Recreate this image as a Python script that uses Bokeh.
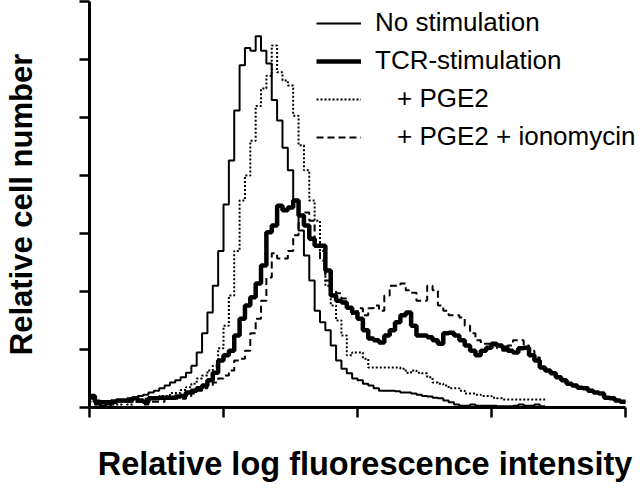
from bokeh.plotting import figure
from bokeh.models import FixedTicker, Legend, LegendItem
from bokeh.embed import file_html
from bokeh.resources import INLINE

# Histogram bins: 0.04 decade wide, x axis spans 4 log decades
bin_width = 0.04
decade_ticks = [0, 1, 2, 3, 4]
count_ticks = [0, 10, 20, 30, 40, 50, 60, 70]

no_stim = [1.7, 0.7, 0.3, 0.7, 1.2, 1.2, 1.2, 1.6, 1.6, 2.0,
           2.2, 2.6, 2.9, 3.3, 3.8, 4.3, 4.7, 5.2, 6.0, 7.2,
           9.5, 12.8, 16.4, 21.0, 27.0, 35.0, 42.6, 51.2, 59.0, 62.0,
           61.5, 64.0, 61.5, 59.3, 53.0, 49.5, 44.8, 40.9, 35.7, 30.5,
           26.2, 21.9, 16.7, 14.7, 13.3, 10.7, 8.1, 6.7, 5.9, 5.0,
           4.7, 4.1, 3.8, 3.3, 2.9, 2.9, 2.9, 2.8, 2.6, 2.6,
           2.4, 2.2, 2.0, 1.9, 1.7, 1.6, 1.2, 0.9, 0.5, 0.3,
           0.3, 0.5, 0.3, 0.3, 0.3, 0.3, 0.2, 0.2, 0.2, 0.3,
           0.5, 0.3, 0.3, 0.5, 0.2]

tcr_stim = [2.0, 1.0, 0.9, 0.9, 1.0, 1.2, 1.2, 1.2, 1.6, 1.2,
            1.0, 1.6, 1.6, 1.7, 1.7, 1.7, 1.9, 2.0, 2.6, 2.9,
            3.3, 3.8, 4.7, 6.0, 8.1, 9.0, 9.8, 12.4, 15.3, 17.6,
            19.0, 21.4, 24.5, 30.2, 31.4, 34.8, 34.0, 34.5, 35.7, 33.1,
            31.4, 29.1, 27.9, 27.9, 23.6, 19.3, 18.4, 18.1, 17.2, 16.4,
            15.3, 13.3, 11.9, 11.6, 11.2, 12.4, 13.3, 14.7, 15.9, 16.4,
            14.1, 12.4, 12.4, 12.1, 11.6, 11.0, 12.8, 12.9, 12.4, 11.6,
            10.7, 9.8, 9.0, 9.8, 10.3, 11.0, 10.7, 10.3, 9.8, 9.5,
            10.2, 10.3, 9.0, 8.1, 6.9, 6.4, 5.9, 5.2, 4.7, 4.1,
            3.8, 3.4, 3.3, 2.9, 2.6, 2.4, 1.7, 1.6, 1.2, 1.0]

pge2 = [1.0, 0.5, 0.3, 0.3, 0.5, 0.5, 1.0, 0.5, 1.0, 1.0,
        1.5, 1.5, 1.5, 2.0, 2.0, 2.5, 2.5, 3.0, 3.5, 4.1,
        5.0, 5.5, 6.4, 7.2, 10.2, 14.1, 19.3, 27.0, 35.7, 40.0,
        46.0, 52.0, 55.0, 57.2, 62.4, 57.8, 56.4, 55.5, 50.3, 45.2,
        40.9, 35.7, 32.2, 27.0, 21.0, 17.6, 15.0, 12.4, 9.0, 9.5,
        9.5, 8.4, 6.9, 6.9, 6.9, 6.9, 6.9, 6.9, 6.7, 6.0,
        6.4, 6.0, 5.9, 5.2, 4.3, 4.1, 3.8, 3.3, 3.3, 2.9,
        2.4, 2.4, 2.2, 2.0, 2.0, 1.7, 1.6, 1.4, 1.4, 1.4,
        1.4, 1.4, 1.4, 1.4, 1.4]

pge2_iono = [1.5, 0.5, 0.5, 0.5, 0.5, 1.0, 1.0, 1.0, 1.0, 1.0,
             0.5, 1.0, 1.0, 1.0, 1.5, 1.5, 1.5, 1.5, 2.0, 2.4,
             2.9, 3.3, 3.8, 4.3, 5.0, 5.5, 6.4, 8.1, 8.4, 9.8,
             12.8, 15.3, 18.4, 22.4, 26.6, 25.7, 25.7, 27.0, 29.7, 31.9,
             33.6, 32.2, 28.8, 25.3, 21.9, 20.2, 19.7, 18.8, 17.2, 15.9,
             17.1, 15.9, 17.1, 17.6, 16.7, 19.3, 21.0, 21.0, 21.4, 20.2,
             19.8, 18.4, 18.4, 21.0, 20.2, 17.6, 16.7, 15.9, 15.9, 15.5,
             14.1, 12.8, 11.6, 11.0, 11.0, 10.7, 10.2, 9.8, 10.7, 11.6,
             11.6, 10.7, 9.8, 8.6, 6.9, 6.4, 5.9, 5.2, 4.7, 4.1,
             3.8, 3.4, 3.3, 2.9, 2.6, 2.4, 1.7, 1.6, 1.2, 1.0]

labels = ["No stimulation", "TCR-stimulation", "+ PGE2", "+ PGE2 + ionomycin"]
x_title = "Relative log fluorescence intensity"
y_title = "Relative cell number"


def edges(vals):
    xs = [i * bin_width for i in range(len(vals) + 1)]
    ys = list(vals) + [vals[-1]]
    return xs, ys


# frame runs to the right edge so the legend is not clipped;
# the x axis line itself is bounded to the 4 decades
p = figure(width=640, height=488, output_backend="svg", toolbar_location=None,
           x_range=(0, 4.1117), y_range=(0, 70),
           min_border_left=88, min_border_right=0,
           min_border_top=1, min_border_bottom=81)
p.outline_line_color = None
p.xgrid.visible = False
p.ygrid.visible = False
p.background_fill_color = "white"
p.border_fill_color = "white"

x, y = edges(no_stim)
r1 = p.step(x, y, mode="after", line_color="black", line_width=2)
x, y = edges(tcr_stim)
r2 = p.step(x, y, mode="after", line_color="black", line_width=4.5)
x, y = edges(pge2)
r3 = p.step(x, y, mode="after", line_color="black", line_width=2, line_dash="2 2")
x, y = edges(pge2_iono)
r4 = p.step(x, y, mode="after", line_color="black", line_width=2, line_dash="7 4")

for ax in (p.xaxis[0], p.yaxis[0]):
    ax.axis_line_width = 3
    ax.axis_line_color = "black"
    ax.major_tick_line_width = 2.5
    ax.major_tick_line_color = "black"
    ax.major_tick_out = 10
    ax.major_tick_in = 0
    ax.minor_tick_line_color = None
    ax.major_label_text_font_size = "0px"
    ax.major_label_text_color = None
    ax.major_label_standoff = 0
    ax.axis_label_text_font = "Liberation Sans"
    ax.axis_label_text_font_style = "bold"
    ax.axis_label_text_color = "black"

p.xaxis[0].ticker = FixedTicker(ticks=decade_ticks)
p.xaxis[0].bounds = (decade_ticks[0], decade_ticks[-1])
p.yaxis[0].ticker = FixedTicker(ticks=count_ticks)
p.xaxis[0].axis_label = x_title
p.yaxis[0].axis_label = y_title
p.xaxis[0].axis_label_text_font_size = "32.5px"
p.yaxis[0].axis_label_text_font_size = "31px"
p.xaxis[0].axis_label_standoff = 28
p.yaxis[0].axis_label_standoff = 41

legend_style = dict(glyph_width=45, glyph_height=30, label_height=30,
                    label_width=250, spacing=7, padding=0, margin=0,
                    border_line_color=None, background_fill_alpha=0,
                    label_text_font="Liberation Sans",
                    label_text_font_size="26px", label_text_color="black")

legend_a = Legend(items=[LegendItem(label=labels[0], renderers=[r1]),
                         LegendItem(label=labels[1], renderers=[r2])],
                  location=(227, 331), label_standoff=14, **legend_style)
legend_b = Legend(items=[LegendItem(label=labels[2], renderers=[r3]),
                         LegendItem(label=labels[3], renderers=[r4])],
                  location=(227, 255), label_standoff=36, **legend_style)
p.add_layout(legend_a)
p.add_layout(legend_b)

open("out.html", "w").write(file_html(p, INLINE))
